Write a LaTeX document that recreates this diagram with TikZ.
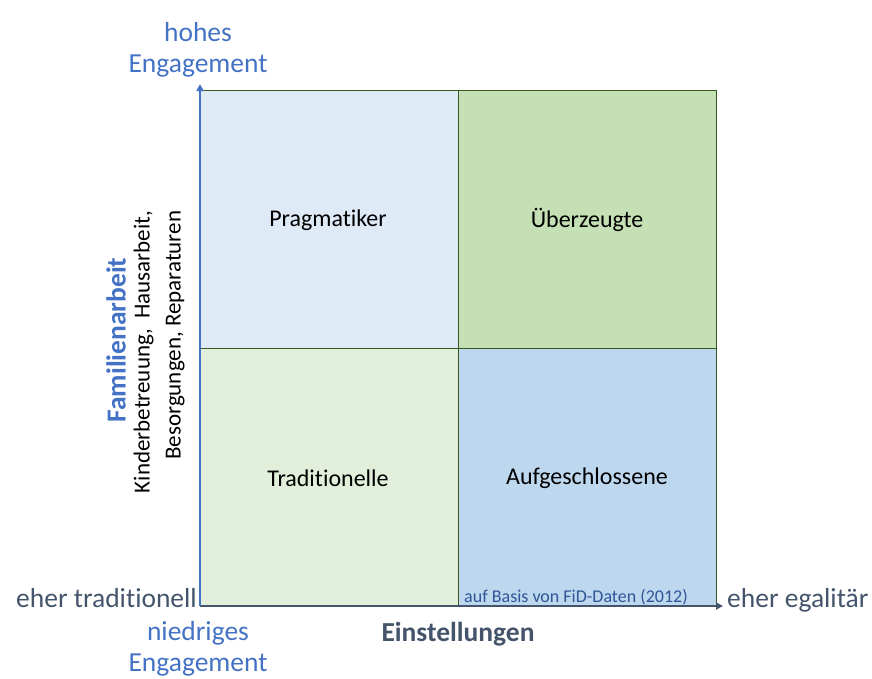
\documentclass[tikz,border=0pt]{standalone}
\usepackage{fontspec}
\setmainfont{Carlito}[Ligatures=NoCommon]
\usetikzlibrary{arrows.meta}
\definecolor{axisblue}{HTML}{4472C4}
\definecolor{axisgray}{HTML}{44546A}
\definecolor{cellTL}{HTML}{DEEAF6}
\definecolor{cellTR}{HTML}{C5E0B4}
\definecolor{cellBL}{HTML}{E2EFDA}
\definecolor{cellBR}{HTML}{BDD7EE}
\definecolor{gridline}{HTML}{385723}
\definecolor{notecol}{HTML}{2F5597}
\begin{document}
\begin{tikzpicture}[x=1pt,y=-1pt,
  cell/.style={draw=gridline,line width=0.8pt},
  celltext/.style={font=\fontsize{24}{28}\selectfont,text=black},
  bluelabel/.style={font=\fontsize{27.5}{31}\selectfont,text=axisblue,align=center},
  graylabel/.style={font=\fontsize{27.5}{32}\selectfont,text=axisgray,inner sep=0pt}]
\useasboundingbox (0,0) rectangle (872,678);
% quadrants
\fill[cellTL] (200,90) rectangle (458,348);
\fill[cellTR] (458,90) rectangle (716,348);
\fill[cellBL] (200,348) rectangle (458,606);
\fill[cellBR] (458,348) rectangle (716,606);
\draw[cell] (200,90) rectangle (716,606);
\draw[cell] (458,90) -- (458,606);
\draw[cell] (200,348) -- (716,348);
% cell labels
\node[celltext] (prag) at (328,220) {Pragmatiker};
\node[celltext] (ueber) at (587,220) {Überzeugte};
\node[celltext] (trad) at (328,478) {Traditionelle};
\node[celltext] (aufg) at (587,478) {Aufgeschlossene};
\node[font=\fontsize{18}{20}\selectfont,text=notecol,anchor=base west,inner sep=0pt] (src) at (464,602) {auf Basis von FiD-Daten (2012)};
% axes
\coordinate (origin) at (200,606);
\coordinate (ytop) at (200,84);
\coordinate (xend) at (723,606);
\draw[axisgray,line width=2.2pt,-{Triangle[length=7pt,width=7pt]}] (origin) -- (xend);
\draw[axisblue,line width=2.2pt,-{Triangle[length=7pt,width=7pt]}] (origin) -- (ytop);
% axis labels
\node[bluelabel] (hoch) at (198,50) {hohes\\Engagement};
\node[bluelabel] (nied) at (198,649) {niedriges\\Engagement};
\node[graylabel,anchor=base east] (trl) at (197,607) {eher traditionell};
\node[graylabel,anchor=base west] (egl) at (727,607) {eher egalitär};
\node[font=\bfseries\fontsize{27.5}{32}\selectfont,text=axisgray] (einst) at (458,634) {Einstellungen};
\node[font=\bfseries\fontsize{27.5}{32}\selectfont,text=axisblue,rotate=90] (fam) at (116,340) {Familienarbeit};
\node[font=\fontsize{23}{31}\selectfont,text=black,rotate=90,align=right] (tasks) at (159,352) {Kinderbetreuung,\ \ Hausarbeit,\\Besorgungen,\ Reparaturen};
\end{tikzpicture}
\end{document}
